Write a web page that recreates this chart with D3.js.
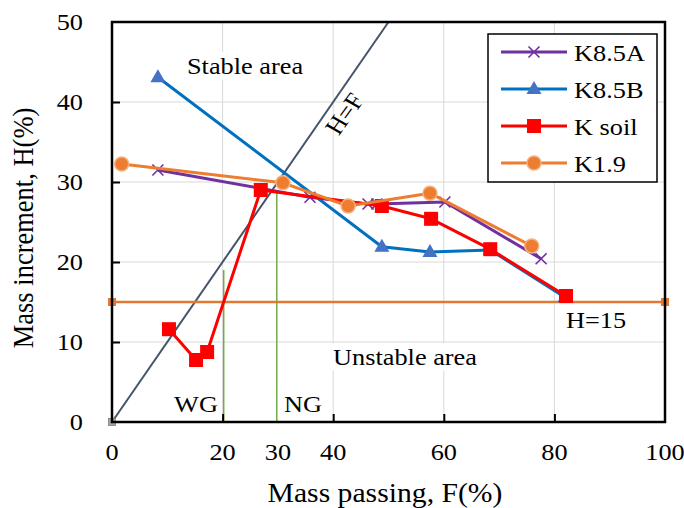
<!DOCTYPE html>
<html>
<head>
<meta charset="utf-8">
<script src="https://cdn.jsdelivr.net/npm/d3@7"></script>
<style>
  body { margin: 0; background: #fff; }
  text { font-family: "Liberation Serif", "Times New Roman", serif; fill: #000; }
</style>
</head>
<body>
<svg id="chart" width="684" height="508"></svg>
<script>
// ---- data ----
const seriesNames = ["K8.5A", "K8.5B", "K soil", "K1.9"];
const k85aF = [8.3, 35.8, 46.3, 47.9, 60.2, 77.6];
const k85aH = [31.5, 28.1, 27.25, 27.25, 27.5, 20.4];
const k85bF = [8.3, 48.8, 57.5, 68.4, 81.9];
const k85bH = [43.1, 21.9, 21.25, 21.5, 15.6];
const kSoilF = [10.3, 15.2, 17.2, 26.9, 48.8, 57.7, 68.4, 82.1];
const kSoilH = [11.6, 7.75, 8.75, 29.0, 27.0, 25.4, 21.6, 15.75];
const k19F = [1.75, 30.9, 42.7, 57.5, 75.9];
const k19H = [32.25, 29.9, 27.0, 28.6, 22.0];

const xTickValues = [0, 20, 30, 40, 60, 80, 100];
const xGridValues = [20, 40, 60, 80];
const yTickValues = [0, 10, 20, 30, 40, 50];
const limitH = 15;                 // H = 15 threshold
const wgLine = { F: 20.2, H: 19 };  // WG marker line
const ngLine = { F: 29.8, H: 28.8 }; // NG marker line

// ---- layout ----
const svg = d3.select("#chart");
const SX = 1.12; // horizontal glyph stretch used for all text
const x = d3.scaleLinear().domain([0, 100]).range([112, 665]);
const y = d3.scaleLinear().domain([0, 50]).range([422, 22]);

function label(g, px, py, str, size, anchor, rot) {
  const t = g.append("text")
    .attr("transform", `translate(${px},${py}) scale(${SX},1)` + (rot ? ` rotate(${rot})` : ""))
    .attr("font-size", size)
    .attr("text-anchor", anchor || "middle")
    .text(str);
  return t;
}

// gridlines
const grid = svg.append("g");
grid.selectAll("line.gx").data(xGridValues).join("line")
  .attr("x1", d => x(d)).attr("x2", d => x(d))
  .attr("y1", y(0)).attr("y2", y(50))
  .attr("stroke", "#d9d9d9").attr("stroke-width", 1);
grid.selectAll("line.gy").data(yTickValues.filter(v => v > 0 && v < 50)).join("line")
  .attr("x1", x(0)).attr("x2", x(100))
  .attr("y1", d => y(d)).attr("y2", d => y(d))
  .attr("stroke", "#d9d9d9").attr("stroke-width", 1);

// annotation boxes that sit over the grid
const ann = svg.append("g");
function boxedLabel(px, py, str, size) {
  const t = label(ann, px, py, str, size, "middle");
  const bb = t.node().getBBox();
  ann.insert("rect", "text")
    .attr("x", px - bb.width * SX / 2 - 2).attr("y", py + bb.y - 1)
    .attr("width", bb.width * SX + 4).attr("height", bb.height + 2)
    .attr("fill", "#fff");
  return t;
}
boxedLabel(245, 74, "Stable area", 23.5);
boxedLabel(405, 365, "Unstable area", 23.5);
boxedLabel(196, 412, "WG", 23.5);
boxedLabel(303, 412, "NG", 23.5);
boxedLabel(596, 328, "H=15", 23.5);

// reference lines
const ref = svg.append("g");
ref.append("line")
  .attr("x1", x(wgLine.F)).attr("x2", x(wgLine.F))
  .attr("y1", y(wgLine.H)).attr("y2", y(0))
  .attr("stroke", "#70ad47").attr("stroke-width", 1.5);
ref.append("line")
  .attr("x1", x(ngLine.F)).attr("x2", x(ngLine.F))
  .attr("y1", y(ngLine.H)).attr("y2", y(0))
  .attr("stroke", "#70ad47").attr("stroke-width", 1.5);
// H = F diagonal
ref.append("line")
  .attr("x1", x(0)).attr("y1", y(0))
  .attr("x2", x(50)).attr("y2", y(50))
  .attr("stroke", "#44546a").attr("stroke-width", 2);
ref.append("rect")
  .attr("x", x(0) - 3.5).attr("y", y(0) - 3.5).attr("width", 7).attr("height", 7)
  .attr("fill", "#a5a5a5").attr("stroke", "#7f7f7f").attr("stroke-width", 0.8);
// H = 15 limit
ref.append("line")
  .attr("x1", x(0)).attr("x2", x(100))
  .attr("y1", y(limitH)).attr("y2", y(limitH))
  .attr("stroke", "#e07a32").attr("stroke-width", 2.5);
[0, 100].forEach(f => {
  ref.append("rect")
    .attr("x", x(f) - 4).attr("y", y(limitH) - 4).attr("width", 8).attr("height", 8)
    .attr("fill", "#e07a32");
});

label(svg, 352, 118, "H=F", 23.5, "middle", -57);

// ---- series ----
const series = [
  { name: seriesNames[0], F: k85aF, H: k85aH, color: "#7030a0", marker: "x" },
  { name: seriesNames[1], F: k85bF, H: k85bH, color: "#0070c0", marker: "tri" },
  { name: seriesNames[2], F: kSoilF, H: kSoilH, color: "#ff0000", marker: "sq" },
  { name: seriesNames[3], F: k19F, H: k19H, color: "#ed7d31", marker: "circ" }
];

function drawMarker(g, type, px, py) {
  if (type === "x") {
    const s = 5.5;
    g.append("path")
      .attr("d", `M${px - s},${py - s}L${px + s},${py + s}M${px - s},${py + s}L${px + s},${py - s}`)
      .attr("stroke", "#7030a0").attr("stroke-width", 1.6).attr("fill", "none");
  } else if (type === "tri") {
    g.append("path")
      .attr("d", `M${px},${py - 8}L${px + 7.5},${py + 5}L${px - 7.5},${py + 5}Z`)
      .attr("fill", "#4472c4");
  } else if (type === "sq") {
    g.append("rect")
      .attr("x", px - 7).attr("y", py - 7).attr("width", 14).attr("height", 14)
      .attr("fill", "#ff0000");
  } else {
    g.append("circle")
      .attr("cx", px).attr("cy", py).attr("r", 7)
      .attr("fill", "#ed7d31").attr("stroke", "#f4b183").attr("stroke-width", 1.5);
  }
}

const line = d3.line().x(d => x(d[0])).y(d => y(d[1]));
series.forEach(s => {
  const pts = s.F.map((f, i) => [f, s.H[i]]);
  const g = svg.append("g");
  g.append("path").attr("d", line(pts))
    .attr("fill", "none").attr("stroke", s.color).attr("stroke-width", 3)
    .attr("stroke-linejoin", "round");
  pts.forEach(p => drawMarker(g, s.marker, x(p[0]), y(p[1])));
});

// ---- frame and axes ----
const frame = svg.append("g");
frame.append("rect")
  .attr("x", x(0)).attr("y", y(50))
  .attr("width", x(100) - x(0)).attr("height", y(0) - y(50))
  .attr("fill", "none").attr("stroke", "#000").attr("stroke-width", 2.5);

const xAxis = d3.axisBottom(x).tickValues(xGridValues).tickSizeInner(-8).tickSizeOuter(0).tickFormat("");
frame.append("g").attr("transform", `translate(0,${y(0)})`).call(xAxis)
  .call(g => g.select(".domain").remove())
  .call(g => g.selectAll(".tick line").attr("stroke", "#000").attr("stroke-width", 2));
const yAxis = d3.axisLeft(y).tickValues(yTickValues.filter(v => v > 0 && v < 50)).tickSizeInner(-8).tickSizeOuter(0).tickFormat("");
frame.append("g").attr("transform", `translate(${x(0)},0)`).call(yAxis)
  .call(g => g.select(".domain").remove())
  .call(g => g.selectAll(".tick line").attr("stroke", "#000").attr("stroke-width", 2));

const tl = svg.append("g");
xTickValues.forEach(v => label(tl, x(v), 460, String(v), 23.5, "middle"));
yTickValues.forEach(v => label(tl, 83, y(v) + 8, String(v), 23.5, "end"));

label(svg, 385, 502, "Mass passing, F(%)", 26.5, "middle");
label(svg, 33, 228, "Mass increment, H(%)", 26.5, "middle", -90);

// ---- legend ----
const lg = svg.append("g");
lg.append("rect").attr("x", 488).attr("y", 34).attr("width", 169).attr("height", 148)
  .attr("fill", "#fff").attr("stroke", "#000").attr("stroke-width", 1.5);
const legendY = [52, 89, 126, 163];
series.forEach((s, i) => {
  const ly = legendY[i];
  lg.append("line").attr("x1", 501).attr("x2", 567).attr("y1", ly).attr("y2", ly)
    .attr("stroke", s.color).attr("stroke-width", 3);
  drawMarker(lg, s.marker, 534, ly);
  label(lg, 574, ly + 8.5, s.name, 23.5, "start");
});
</script>
</body>
</html>
